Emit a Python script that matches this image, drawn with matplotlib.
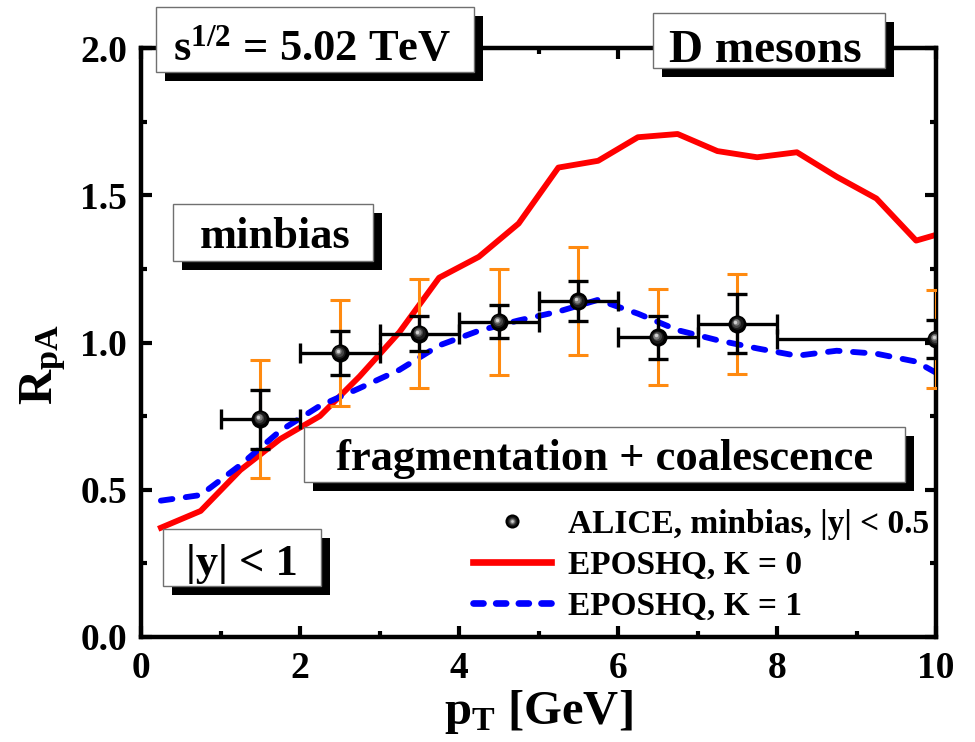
import matplotlib
matplotlib.use("Agg")
import matplotlib.pyplot as plt
from matplotlib.patches import Rectangle
from matplotlib.transforms import offset_copy
from matplotlib.lines import Line2D
from matplotlib.legend_handler import HandlerTuple
from matplotlib.ticker import FormatStrFormatter

plt.rcParams["font.family"] = ["Liberation Serif", "DejaVu Serif"]
plt.rcParams["font.weight"] = "bold"
plt.rcParams["axes.labelweight"] = "bold"
plt.rcParams["mathtext.fontset"] = "custom"
plt.rcParams["mathtext.rm"] = "Liberation Serif:bold"
plt.rcParams["mathtext.it"] = "Liberation Serif:bold"
plt.rcParams["mathtext.bf"] = "Liberation Serif:bold"

# ALICE D-meson R_pA, minimum bias, |y| < 0.5
pt_data = [1.5, 2.5, 3.5, 4.5, 5.5, 6.5, 7.5, 10.0]
pt_halfwidth = [0.5, 0.5, 0.5, 0.5, 0.5, 0.5, 0.5, 2.0]
rpa_data = [0.74, 0.965, 1.03, 1.07, 1.14, 1.018, 1.063, 1.012]
rpa_stat = [0.10, 0.075, 0.06, 0.056, 0.068, 0.073, 0.10, 0.064]
rpa_syst = [0.20, 0.18, 0.185, 0.18, 0.183, 0.163, 0.17, 0.166]

# EPOSHQ calculations
pt_model = [0.25, 0.75, 1.25, 1.75, 2.25, 2.75, 3.25, 3.75, 4.25, 4.75, 5.25,
            5.75, 6.25, 6.75, 7.25, 7.75, 8.25, 8.75, 9.25, 9.75, 10.25]
rpa_k0 = [0.371, 0.428, 0.567, 0.672, 0.750, 0.885, 1.035, 1.220, 1.291, 1.404,
          1.594, 1.617, 1.697, 1.708, 1.650, 1.629, 1.646, 1.563, 1.489, 1.346,
          1.385]
rpa_k1 = [0.463, 0.482, 0.584, 0.700, 0.785, 0.845, 0.907, 0.990, 1.040, 1.075,
          1.105, 1.145, 1.098, 1.042, 1.008, 0.980, 0.955, 0.972, 0.962, 0.935,
          0.860]

label_data = "ALICE, minbias, |y| < 0.5"
label_k0 = "EPOSHQ, K = 0"
label_k1 = "EPOSHQ, K = 1"

W, H = 975, 742
fig = plt.figure(figsize=(W / 100, H / 100), dpi=100)
ax = fig.add_axes([141 / W, 1 - 637 / H, 795 / W, 589 / H])

ax.plot(pt_model, rpa_k0, color="#ff0000", lw=4.2, solid_joinstyle="round",
        zorder=2)
ax.plot(pt_model, rpa_k1, color="#0000ff", lw=4.2, dashes=(2.0, 2.3),
        dash_capstyle="round", zorder=2)

ax.errorbar(pt_data, rpa_data, yerr=rpa_syst, fmt="none", ecolor="#ff8a10",
            elinewidth=2.2, capsize=7, capthick=2.2, zorder=3)
ax.errorbar(pt_data, rpa_data, xerr=pt_halfwidth, yerr=rpa_stat, fmt="none",
            ecolor="black", elinewidth=2.4, capsize=7, capthick=2.4, zorder=4)

# shaded spheres: dark body with a lighter highlight towards the upper left
sphere_layers = [(13, "#000000", 0.0, 0.0), (9, "#1c1c1c", -0.5, 0.5),
                 (6.5, "#454545", -0.9, 0.9), (4.5, "#808080", -1.2, 1.2),
                 (2.5, "#d0d0d0", -1.4, 1.4)]
for ms, col, dx, dy in sphere_layers:
    tr = offset_copy(ax.transData, fig=fig, x=dx, y=dy, units="points")
    ax.plot(pt_data, rpa_data, "o", ms=ms, mfc=col, mec="none",
            transform=tr, zorder=5)

ax.set_xlim(0, 10)
ax.set_ylim(0, 2)
ax.set_xticks([0, 2, 4, 6, 8, 10])
ax.set_xticks([1, 3, 5, 7, 9], minor=True)
ax.set_yticks([0, 0.5, 1.0, 1.5, 2.0])
ax.set_yticks([0.25, 0.75, 1.25, 1.75], minor=True)
ax.yaxis.set_major_formatter(FormatStrFormatter("%.1f"))
ax.tick_params(which="both", direction="in", top=True, right=True, width=3)
ax.tick_params(which="major", length=8, labelsize=27, pad=10)
ax.tick_params(which="minor", length=4)
for sp in ax.spines.values():
    sp.set_linewidth(3.2)

ax.set_xlabel(r"$\mathrm{p_T}$ [GeV]", fontsize=35)
ax.set_ylabel(r"$\mathrm{R_{pA}}$", fontsize=35)
ax.xaxis.set_label_coords(0.5, -0.086)
ax.yaxis.set_label_coords(-0.092, 0.463)

# legend
leg_sphere = tuple(Line2D([], [], ls="none", marker="o", ms=ms * 0.78,
                          mfc=col, mec="none")
                   for ms, col, dx, dy in sphere_layers)
leg_k0 = Line2D([], [], color="#ff0000", lw=4.8)
leg_k1 = Line2D([], [], color="#0000ff", lw=4.8, dashes=(1.5, 1.9),
                dash_capstyle="round")
ax.legend([leg_sphere, leg_k0, leg_k1], [label_data, label_k0, label_k1],
          handler_map={tuple: HandlerTuple(ndivide=1, pad=0)},
          loc="lower left", bbox_to_anchor=(473 / W, 1 - 622 / H),
          bbox_transform=fig.transFigure, frameon=False, fontsize=24,
          borderpad=0, borderaxespad=0, handlelength=2.35,
          handletextpad=0.5, labelspacing=0.3, numpoints=1)


def shadow_box(x0, y0, x1, y1, text, tx, ty, fs):
    """White box with a black drop shadow, given in pixel coordinates."""
    shadow = Rectangle(((x0 + 9) / W, 1 - (y1 + 9) / H), (x1 - x0) / W,
                       (y1 - y0) / H, transform=fig.transFigure,
                       fc="black", ec="none", zorder=10)
    face = Rectangle((x0 / W, 1 - y1 / H), (x1 - x0) / W, (y1 - y0) / H,
                     transform=fig.transFigure, fc="white", ec="#707070",
                     lw=1.0, zorder=11)
    fig.add_artist(shadow)
    fig.add_artist(face)
    fig.text(tx / W, 1 - ty / H, text, ha="center", va="baseline",
             fontsize=fs, zorder=12)


shadow_box(156, 7, 474, 72, r"$\mathrm{s^{1/2}}$ = 5.02 TeV", 312, 60, 32)
shadow_box(653, 13, 885, 68, "D mesons", 765, 61.5, 34)
shadow_box(173, 204, 373, 261, "minbias", 275, 248, 32)
shadow_box(304, 427, 905, 482, "fragmentation + coalescence", 605, 470, 32)
shadow_box(163, 529, 321, 586, "|y| < 1", 242, 575, 32)

fig.savefig("out.png", dpi=100)
